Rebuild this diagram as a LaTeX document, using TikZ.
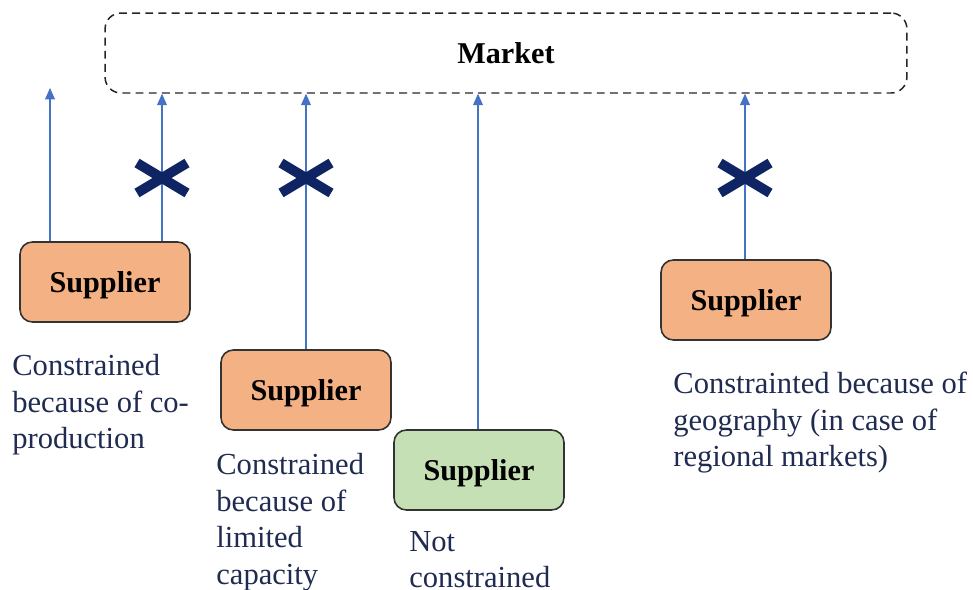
\documentclass[tikz,border=0pt]{standalone}
\usepackage{fontspec}
\setmainfont{Liberation Serif}
\usepackage{xcolor}
\usetikzlibrary{arrows.meta}
\definecolor{supOrange}{HTML}{F4B183}
\definecolor{supGreen}{HTML}{C5E0B4}
\definecolor{flowBlue}{HTML}{4472C4}
\definecolor{crossNavy}{HTML}{0E2463}
\definecolor{noteNavy}{HTML}{1F2B50}
\tikzset{
	supplier/.style={draw=black!80,line width=0.9pt,rounded corners=7pt,
		minimum width=3.4cm,minimum height=1.6cm,inner sep=0pt,text depth=0pt,
		font=\fontsize{17.2}{20}\selectfont\bfseries},
	flow/.style={draw=flowBlue,line width=0.75pt,-{Triangle[width=5.6pt,length=6.5pt]}},
	nogo/.style={draw=crossNavy,line width=5.6pt},
	note/.style={anchor=north west,align=left,inner sep=0pt,text=noteNavy,
		font=\fontsize{17.4}{20.8}\selectfont},
}

\begin{document}
\begin{tikzpicture}[x=0.02cm,y=-0.02cm]
	\useasboundingbox (0,0) rectangle (973,589);
	\node[draw=black!85,dashed,dash pattern=on 4.5pt off 3pt,line width=0.85pt,
		rounded corners=9pt,minimum width=16.04cm,minimum height=1.6cm,
		font=\fontsize{17.2}{20}\selectfont\bfseries] (market) at (506,53) {Market};
	%
	\node[supplier,fill=supOrange] (sup1) at (105,282) {Supplier};
	\node[supplier,fill=supOrange] (sup2) at (306,390) {Supplier};
	\node[supplier,fill=supGreen] (sup3) at (479,470) {Supplier};
	\node[supplier,fill=supOrange] (sup4) at (746,300) {Supplier};
	%
	\coordinate (cop) at (50,88);
	\coordinate (j1) at (162,0);
	\coordinate (j2) at (306,0);
	\coordinate (j3) at (478,0);
	\coordinate (j4) at (745,0);
	\draw[flow] (sup1.north -| cop) -- (cop);
	\draw[flow] (sup1.north -| j1) -- (market.south -| j1);
	\draw[flow] (sup2.north -| j2) -- (market.south -| j2);
	\draw[flow] (sup3.north -| j3) -- (market.south -| j3);
	\draw[flow] (sup4.north -| j4) -- (market.south -| j4);
	%
	\foreach \cx in {162,306,745}{
		\draw[nogo] (\cx-25,163) -- (\cx+25,193);
		\draw[nogo] (\cx-25,193) -- (\cx+25,163);
	}
	%
	\node[note] (n1) at (12,354) {Constrained\\because of co-\\production};
	\node[note] (n2) at (216,453) {Constrained\\because of\\limited\\capacity};
	\node[note] (n3) at (409,531) {Not\\constrained};
	\node[note] (n4) at (673,372) {Constrainted because of\\geography (in case of\\regional markets)};
\end{tikzpicture}
\end{document}
